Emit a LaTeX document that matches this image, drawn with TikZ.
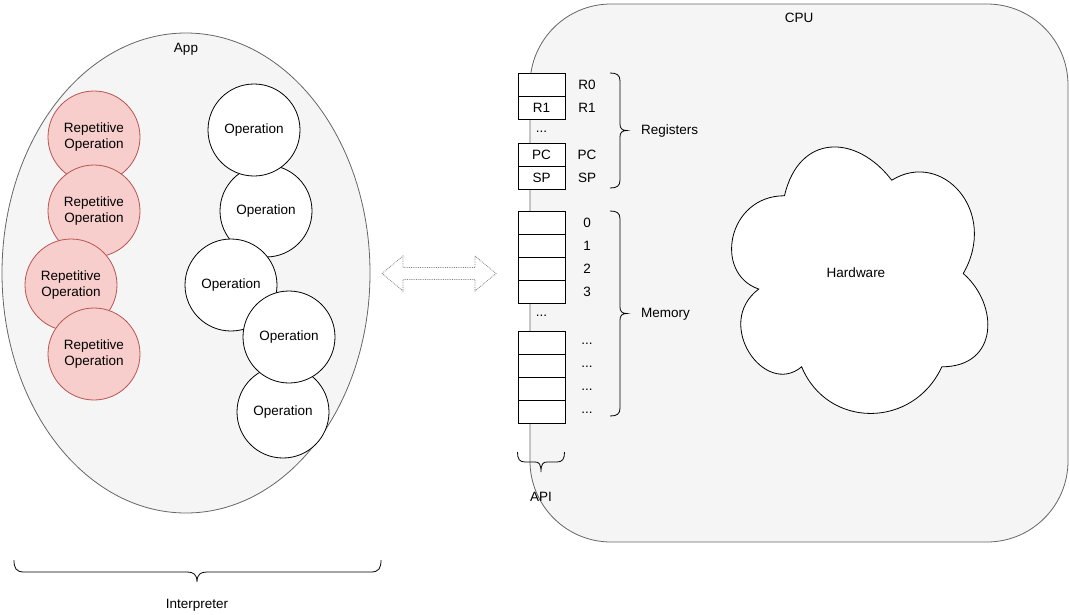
\documentclass[tikz,border=0pt]{standalone}
\usepackage{fontspec}
\setmainfont{Liberation Sans}
\definecolor{boxfill}{HTML}{F5F5F5}
\definecolor{boxline}{HTML}{666666}
\definecolor{redfill}{HTML}{F8CECC}
\definecolor{redline}{HTML}{B85450}
\begin{document}
\begin{tikzpicture}[x=1pt,y=-1pt,
  every node/.style={font=\fontsize{13.5}{16}\selectfont, text=black},
  container/.style={draw=boxline, fill=boxfill, line width=0.8pt},
  opcircle/.style={circle, draw=black, fill=white, line width=0.8pt, minimum size=92pt, inner sep=0pt, align=center},
  repcircle/.style={circle, draw=redline, fill=redfill, line width=0.8pt, minimum size=92pt, inner sep=0pt, align=center},
  cell/.style={rectangle, draw=black, fill=white, line width=0.8pt, minimum width=47pt, minimum height=23pt, inner sep=0pt},
  lbl/.style={inner sep=0pt},
  bracepath/.style={draw=black, line width=0.8pt},
]
\useasboundingbox (0,0) rectangle (1069,614);

% App ellipse
\draw[container] (186,273) ellipse [x radius=184, y radius=240];
\node[lbl] (applbl) at (186,49) {App};

% Repetitive operations
\node[repcircle] (r1) at (94,137) {Repetitive\\Operation};
\node[repcircle] (r2) at (94,211) {Repetitive\\Operation};
\node[repcircle] (r3) at (71,285) {Repetitive\\Operation};
\node[repcircle] (r4) at (94,354) {Repetitive\\Operation};

% Operations
\node[opcircle] (o2) at (266,211) {Operation};
\node[opcircle] (o1) at (254,130) {Operation};
\node[opcircle] (o3) at (231,285) {Operation};
\node[opcircle] (o5) at (283,412) {Operation};
\node[opcircle] (o4) at (289,337) {Operation};

% Double arrow
\draw[draw=gray, densely dotted, fill=white, line width=0.8pt]
  (382,273.5) -- (403,256) -- (403,267.5) -- (475,267.5) -- (475,256) -- (496,273.5)
  -- (475,291) -- (475,279.5) -- (403,279.5) -- (403,291) -- cycle;

% CPU
\draw[container, rounded corners=81pt] (530,4) rectangle (1068,542);
\node[lbl] (cpulbl) at (799,18) {CPU};

% Registers
\node[cell] (c0) at (541.5,84.5) {};
\node[cell] (c1) at (541.5,107.5) {R1};
\node[lbl] (cdots1) at (541.5,132) {...};
\node[cell] (cpc) at (541.5,154.5) {PC};
\node[cell] (csp) at (541.5,177.5) {SP};
\node[lbl] (lr0) at (587,85) {R0};
\node[lbl] (lr1) at (587,108) {R1};
\node[lbl] (lpc) at (587,155) {PC};
\node[lbl] (lsp) at (587,178) {SP};

% Memory
\node[cell] (m0) at (541.5,222.5) {};
\node[cell] (m1) at (541.5,245.5) {};
\node[cell] (m2) at (541.5,268.5) {};
\node[cell] (m3) at (541.5,291.5) {};
\node[lbl] (mdots) at (541.5,316) {...};
\node[cell] (m4) at (541.5,342.5) {};
\node[cell] (m5) at (541.5,365.5) {};
\node[cell] (m6) at (541.5,388.5) {};
\node[cell] (m7) at (541.5,411.5) {};
\node[lbl] (l0) at (587,223) {0};
\node[lbl] (l1) at (587,246) {1};
\node[lbl] (l2) at (587,269) {2};
\node[lbl] (l3) at (587,292) {3};
\node[lbl] (l4) at (587,344) {...};
\node[lbl] (l5) at (587,367) {...};
\node[lbl] (l6) at (587,390) {...};
\node[lbl] (l7) at (587,413) {...};

% Registers brace
\draw[bracepath] (610,73) .. controls (617,73) and (620,75) .. (620,81) -- (620,124)
  .. controls (620,128.5) and (622,130.5) .. (627,130.5)
  .. controls (622,130.5) and (620,132.5) .. (620,137) -- (620,180)
  .. controls (620,186) and (617,188) .. (610,188);
\node[lbl, anchor=west] (reglbl) at (641,131) {Registers};

% Memory brace
\draw[bracepath] (610,211) .. controls (617,211) and (620,213) .. (620,219) -- (620,307)
  .. controls (620,311.5) and (622,313.5) .. (627,313.5)
  .. controls (622,313.5) and (620,315.5) .. (620,320) -- (620,408)
  .. controls (620,414) and (617,416) .. (610,416);
\node[lbl, anchor=west] (memlbl) at (641,314) {Memory};

% API brace
\draw[bracepath] (517.5,452) .. controls (517.5,459) and (519.5,462) .. (525,462) -- (535,462)
  .. controls (539,462) and (541,464) .. (541,472)
  .. controls (541,464) and (543,462) .. (547,462) -- (557,462)
  .. controls (562.5,462) and (564.5,459) .. (564.5,452);
\node[lbl] (apilbl) at (541,497) {API};

% Interpreter brace
\draw[bracepath] (14,560) .. controls (14,568) and (16,572) .. (24,572) -- (187,572)
  .. controls (193,572) and (197,574) .. (197,582)
  .. controls (197,574) and (201,572) .. (207,572) -- (371,572)
  .. controls (379,572) and (381,568) .. (381,560);
\node[lbl] (intlbl) at (197,605) {Interpreter};

% Hardware cloud (w=286, h=311, origin 713,118)
\begin{scope}[shift={(713,118)}, x=286pt, y=-311pt]
\draw[draw=black, fill=white, line width=0.8pt]
  (0.25,0.25) .. controls (0.05,0.25) and (0,0.5) .. (0.16,0.55)
  .. controls (0,0.66) and (0.18,0.9) .. (0.31,0.8)
  .. controls (0.4,1) and (0.7,1) .. (0.8,0.8)
  .. controls (1,0.8) and (1,0.6) .. (0.875,0.5)
  .. controls (1,0.3) and (0.8,0.1) .. (0.625,0.2)
  .. controls (0.5,0.05) and (0.3,0.05) .. (0.25,0.25) -- cycle;
\end{scope}
\node[lbl] (hwlbl) at (856,273) {Hardware};
\end{tikzpicture}
\end{document}
